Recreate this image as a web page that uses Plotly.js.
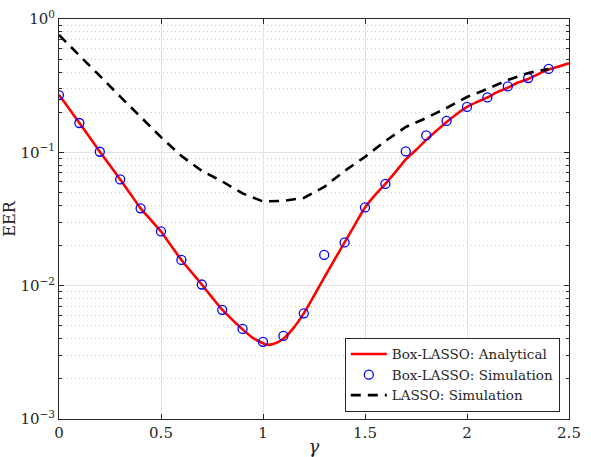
<!DOCTYPE html>
<html>
<head>
<meta charset="utf-8">
<script src="https://cdn.plot.ly/plotly-3.0.1.min.js"></script>
<style>html,body{margin:0;padding:0;background:#fff;}#plot{width:591px;height:457px;}</style>
</head>
<body>
<div id="plot"></div>
<script>
// Analytical Box-LASSO curve
var gammaAnalytic = [0,0.05,0.1,0.15,0.2,0.25,0.3,0.35,0.4,0.45,0.5,0.55,0.6,0.65,0.7,0.75,0.8,0.85,0.9,0.95,1.0,1.02,1.05,1.1,1.15,1.2,1.25,1.3,1.35,1.4,1.45,1.5,1.55,1.6,1.65,1.7,1.75,1.8,1.85,1.9,1.95,2.0,2.05,2.1,2.15,2.2,2.25,2.3,2.35,2.4,2.45,2.5];
var eerAnalytic = [0.27,0.212,0.166,0.13,0.101,0.0796,0.0626,0.0488,0.038,0.0311,0.0255,0.0199,0.0156,0.0126,0.0102,0.00817,0.0066,0.00554,0.0047,0.00406,0.0037,0.0036,0.00365,0.0040,0.00483,0.0062,0.0084,0.0115,0.0156,0.0211,0.0286,0.0386,0.048,0.058,0.0713,0.0887,0.104,0.124,0.145,0.169,0.194,0.219,0.239,0.258,0.284,0.305,0.334,0.355,0.387,0.418,0.44,0.465];

// Box-LASSO simulation
var gammaSim = [0,0.1,0.2,0.3,0.4,0.5,0.6,0.7,0.8,0.9,1.0,1.1,1.2,1.3,1.4,1.5,1.6,1.7,1.8,1.9,2.0,2.1,2.2,2.3,2.4];
var eerBoxSim = [0.269,0.166,0.101,0.0626,0.038,0.0255,0.0156,0.0102,0.00659,0.00474,0.00379,0.0042,0.0062,0.017,0.0211,0.0386,0.058,0.1016,0.134,0.172,0.219,0.258,0.312,0.361,0.422];

// LASSO simulation
var eerLassoSim = [0.759,0.537,0.374,0.262,0.184,0.130,0.094,0.0726,0.0605,0.0492,0.0428,0.0433,0.0455,0.055,0.0726,0.0924,0.1217,0.155,0.181,0.215,0.26,0.299,0.349,0.394,0.422];

var yTickVals = [0.001,0.01,0.1,1];
var yTickText = ['10<sup>\u22123</sup>','10<sup>\u22122</sup>','10<sup>\u22121</sup>','10<sup>0</sup>'];
var yMinorVals = [0.002,0.003,0.004,0.005,0.006,0.007,0.008,0.009,
                  0.02,0.03,0.04,0.05,0.06,0.07,0.08,0.09,
                  0.2,0.3,0.4,0.5,0.6,0.7,0.8,0.9];
var xTickVals = [0,0.5,1,1.5,2,2.5];
var xTickText = ['0','0.5','1','1.5','2','2.5'];

var font = 'DejaVu Serif';

var traces = [
  {x: gammaAnalytic, y: eerAnalytic, mode: 'lines', name: 'Box-LASSO: Analytical',
   line: {color: '#ff0000', width: 2.6, shape: 'spline', smoothing: 0.6}},
  {x: gammaSim, y: eerBoxSim, mode: 'markers', name: 'Box-LASSO: Simulation',
   marker: {symbol: 'circle-open', size: 9, color: '#0000ff', line: {width: 1.3, color: '#0000ff'}}},
  {x: gammaSim, y: eerLassoSim, mode: 'lines', name: 'LASSO: Simulation',
   line: {color: '#000000', width: 2.6, dash: '10px,7px'}}
];

function axisBase() {
  return {
    showline: true, linecolor: '#262626', linewidth: 1, mirror: 'allticks',
    ticks: 'inside', tickcolor: '#262626', ticklen: 5,
    gridcolor: '#e3e3e3', gridwidth: 1, zeroline: false,
    tickfont: {family: font, size: 15, color: '#262626'}
  };
}

var xaxis = axisBase();
xaxis.range = [0, 2.5];
xaxis.tickmode = 'array'; xaxis.tickvals = xTickVals; xaxis.ticktext = xTickText;
xaxis.title = {text: '<i>γ</i>', font: {family: font, size: 18, color: '#262626'}, standoff: 2};

var yaxis = axisBase();
yaxis.type = 'log'; yaxis.range = [-3, 0];
yaxis.tickmode = 'array'; yaxis.tickvals = yTickVals; yaxis.ticktext = yTickText;
yaxis.title = {text: 'EER', font: {family: font, size: 16, color: '#262626'}, standoff: 5};
yaxis.minor = {tickmode: 'array', tickvals: yMinorVals, ticks: 'inside', ticklen: 3,
               tickcolor: '#262626', showgrid: true, gridcolor: '#cccccc', griddash: '1px,3px', gridwidth: 1};

var layout = {
  width: 591, height: 457,
  margin: {l: 59, r: 22, t: 19, b: 38},
  paper_bgcolor: '#ffffff', plot_bgcolor: '#ffffff',
  showlegend: true,
  font: {family: font, color: '#262626'},
  xaxis: xaxis,
  yaxis: yaxis,
  legend: {
    x: 0.982, y: 0.018, xanchor: 'right', yanchor: 'bottom',
    bgcolor: '#ffffff', bordercolor: '#262626', borderwidth: 1,
    font: {family: font, size: 13.5, color: '#262626'},
    tracegroupgap: 0, itemwidth: 36
  }
};

Plotly.newPlot('plot', traces, layout, {displayModeBar: false, staticPlot: true});
</script>
</body>
</html>
